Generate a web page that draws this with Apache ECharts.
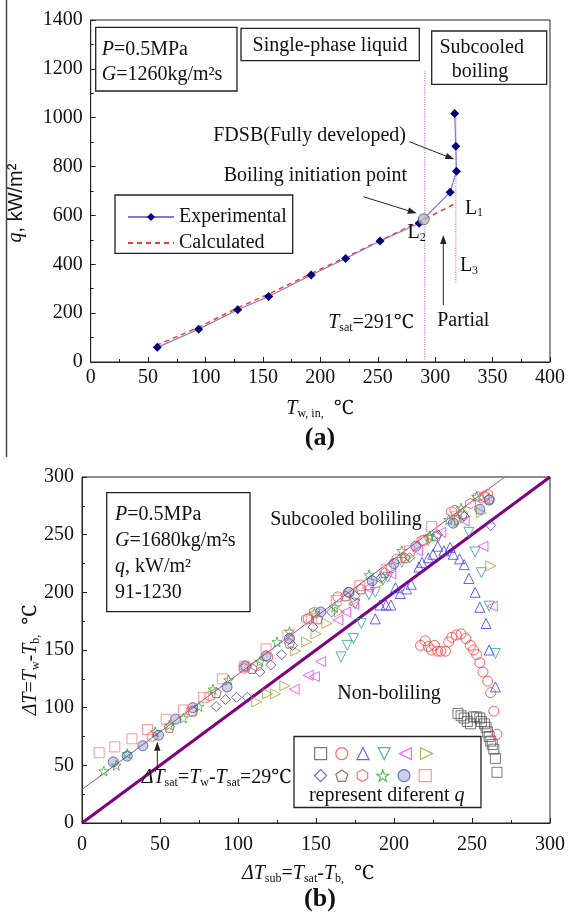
<!DOCTYPE html>
<html><head><meta charset="utf-8">
<script src="https://cdn.jsdelivr.net/npm/echarts@6.0.0/dist/echarts.min.js"></script>
<style>html,body{margin:0;padding:0;background:#fff}#c{width:568px;height:916px}</style>
</head><body><div id="c"></div>
<script>
// ---------- Panel (a) data ----------
const expData = [[58,60],[94,134],[128,214],[155,268],[192,356],[222,424],[252,495],[286,568],[313,695],[318.5,781],[318,883],[317,1017]];
const calcData = [[57,68],[94,142],[128,222],[155,278],[192,362],[222,428],[252,497],[286,573],[318,650]];
const boilPoint = [[290,584]];
const tsatLine = [[291,0],[291,1192]];
const l3Line = [[318,325],[318,1018]];
const xTicksA = {min:0,max:400,interval:50};
const yTicksA = {min:0,max:1400,interval:200};

// ---------- Panel (b) data ----------
const sGraySq = [[241,95],[243,93],[245,91],[247,88],[249,86],[251,92],[253,92],[255,91],[256,88],[258,86],[259,83],[260,79],[261,75],[262,71],[263,68],[264,64],[265,56],[266,44]];
const sRedCircle = [[217,154],[220,158],[222,153],[224,150],[226,154],[228,149],[230,149],[233,149],[235,157],[237,161],[240,163],[243,164],[246,160],[249,154],[251,150],[253,146],[255,139],[257,131],[260,123],[262,113],[264,97],[266,77],[104,136],[145,177],[164,196],[198,221],[219,245],[239,271],[258,283]];
const sBlueTriUp = [[188,177],[191,189],[195,189],[198,189],[201,204],[204,199],[208,203],[211,207],[216,222],[218,226],[222,230],[225,233],[228,240],[232,236],[236,239],[238,233],[242,229],[245,224],[248,212],[252,200],[255,187],[259,173],[261,150],[265,118]];
const sTealTriDown = [[166,144],[170,154],[174,160],[179,173],[184,198],[188,200],[193,211],[196,213],[248,252],[252,235],[256,217],[261,188],[265,147],[175,190],[205,226],[222,245],[240,262]];
const sMagTriLeft = [[136,116],[145,128],[149,127],[153,140],[164,176],[169,183],[174,190],[183,204],[198,216],[215,236],[230,252],[245,262],[257,240],[263,188]];
const sOliveTriRight = [[112,105],[119,112],[124,112],[130,119],[137,149],[144,157],[150,164],[157,173],[165,183],[175,193],[190,207],[208,230],[225,247],[242,262],[256,269],[262,223]];
const sBlueDiamond = [[86,101],[92,107],[99,109],[106,109],[114,131],[121,137],[128,146],[135,154],[148,170],[160,183],[175,197],[192,213],[210,230],[228,250],[245,266],[262,258]];
const sBrownPent = [[56,83],[71,97],[86,113],[109,134],[133,156],[151,177],[169,197],[179,203],[194,217],[207,230],[227,249],[244,268],[261,281]];
const sRedHex = [[45,75],[70,97],[82,110],[104,134],[112,136],[119,144],[144,177],[149,183],[171,200],[202,229],[218,245],[237,270],[249,277],[254,283],[260,285]];
const sGreenStar = [[14,45],[22,50],[29,60],[47,79],[56,85],[65,91],[75,101],[84,116],[94,124],[114,140],[125,157],[133,166],[149,182],[162,187],[184,215],[205,236],[223,249],[235,263],[243,273],[253,283]];
const sBlueCircle = [[20,53],[29,58],[39,67],[49,76],[60,90],[71,100],[93,118],[105,136],[118,145],[133,160],[153,183],[171,200],[186,210],[200,225],[214,240],[238,260],[255,272],[261,280]];
const sSalmonSq = [[11,61],[21,66],[32,73],[42,81],[54,90],[65,98],[78,109],[90,125],[104,136],[118,151],[132,163],[147,177],[163,193],[178,206],[195,220],[210,236],[224,257],[240,266],[258,282]];
const lineSat29 = [[0,29],[271,300]];
const lineDiag = [[0,0],[300,300]];
const xTicksB = {min:0,max:300,interval:50};
const yTicksB = {min:0,max:300,interval:50};

// ---------- rendering ----------
const SERIF = "'Liberation Serif','Times New Roman','Noto Serif',serif";
const SANS = "'Liberation Sans',Arial,sans-serif";
const chart = echarts.init(document.getElementById('c'), null, {renderer:'canvas'});

const PENT = 'path://M0,-10 L9.51,-3.09 L5.88,8.09 L-5.88,8.09 L-9.51,-3.09 Z';
const HEX = 'path://M0,-10 L8.66,-5 L8.66,5 L0,10 L-8.66,5 L-8.66,-5 Z';
const STAR = 'path://M0,-10 L2.35,-3.24 L9.51,-3.09 L3.8,1.24 L5.88,8.09 L0,4 L-5.88,8.09 L-3.8,1.24 L-9.51,-3.09 L-2.35,-3.24 Z';
const TRI_UP = 'path://M0,-1 L1,1 L-1,1 Z';
const TRI_DOWN = 'path://M-1,-1 L1,-1 L0,1 Z';
const TRI_LEFT = 'path://M-1,0 L1,-1 L1,1 Z';
const TRI_RIGHT = 'path://M1,0 L-1,-1 L-1,1 Z';

const bSeriesDefs = [
  ['s1', sGraySq, 'rect', '#555555', 'rgba(0,0,0,0)'],
  ['s2', sRedCircle, 'circle', '#ff3a3a', 'rgba(0,0,0,0)'],
  ['s3', sBlueTriUp, TRI_UP, '#3a3aff', 'rgba(0,0,0,0)'],
  ['s4', sTealTriDown, TRI_DOWN, '#2e9e9e', 'rgba(0,0,0,0)'],
  ['s5', sMagTriLeft, TRI_LEFT, '#ff33ff', 'rgba(0,0,0,0)'],
  ['s6', sOliveTriRight, TRI_RIGHT, '#a0a030', 'rgba(0,0,0,0)'],
  ['s7', sBlueDiamond, 'diamond', '#4040c0', 'rgba(0,0,0,0)'],
  ['s8', sBrownPent, PENT, '#994444', 'rgba(0,0,0,0)'],
  ['s9', sRedHex, HEX, '#ff5050', 'rgba(0,0,0,0)'],
  ['s10', sGreenStar, STAR, '#33aa33', 'rgba(0,0,0,0)'],
  ['s11', sBlueCircle, 'circle', '#4455aa', 'rgba(68,85,170,0.35)'],
  ['s12', sSalmonSq, 'rect', '#ff7a7a', 'rgba(0,0,0,0)']
];

function axisCommon(extra){
  return Object.assign({
    type:'value',
    axisLine:{show:true,lineStyle:{color:'#222',width:1}},
    axisTick:{show:true,inside:true,length:5,lineStyle:{color:'#222'}},
    minorTick:{show:true,splitNumber:2,length:3,lineStyle:{color:'#222'}},
    splitLine:{show:false}
  }, extra);
}
function lbl(margin){
  return {color:'#111',fontFamily:SERIF,fontSize:20,margin:margin,formatter:function(v){return String(v);}};
}

const series = [
  {type:'line',name:'Calculated',xAxisIndex:0,yAxisIndex:0,data:calcData,symbol:'none',
   lineStyle:{color:'#ff3333',width:1.5,type:[5,4]},itemStyle:{color:'rgba(0,0,0,0)',borderColor:'rgba(0,0,0,0)'},z:2},
  {type:'line',name:'Experimental',xAxisIndex:0,yAxisIndex:0,data:expData,symbol:'diamond',symbolSize:9,
   lineStyle:{color:'#7b7bd6',width:1.2},itemStyle:{color:'#00007a'},z:3},
  {type:'line',name:'tsat',xAxisIndex:0,yAxisIndex:0,data:tsatLine,symbol:'none',
   lineStyle:{color:'#cc77cc',width:1.2,type:'dotted'},z:1},
  {type:'line',name:'l3',xAxisIndex:0,yAxisIndex:0,data:l3Line,symbol:'none',
   lineStyle:{color:'#cc77cc',width:1.2,type:'dotted'},z:1},
  {type:'scatter',name:'bip',xAxisIndex:0,yAxisIndex:0,data:boilPoint,symbol:'circle',symbolSize:11,
   itemStyle:{color:'#bdbdbd',borderColor:'#555',borderWidth:1},z:5},
  {type:'line',name:'sat29',xAxisIndex:1,yAxisIndex:1,data:lineSat29,symbol:'none',
   lineStyle:{color:'#b040b0',width:1},z:1},
  {type:'line',name:'diag',xAxisIndex:1,yAxisIndex:1,data:lineDiag,symbol:'none',
   lineStyle:{color:'#800080',width:3},z:1}
];
bSeriesDefs.forEach(d=>{
  series.push({type:'scatter',name:d[0],xAxisIndex:1,yAxisIndex:1,data:d[1],symbol:d[2],
    symbolSize:10,itemStyle:{color:d[4],borderColor:d[3],borderWidth:1},z:3});
});

function txt(x,y,text,o){
  o=o||{};
  return {type:'text',silent:true,x:x,y:y,rotation:o.rot||0,z:50,
    style:{text:text,fontFamily:o.ff||SERIF,fontSize:o.fs||20,fontWeight:o.fw||'normal',fill:'#111',
      align:o.align||'center',verticalAlign:'middle',rich:o.rich||richBase(o.fs||20)}};
}
function richBase(fs){
  return {
    i:{fontFamily:SERIF,fontSize:fs,fontStyle:'italic',fill:'#111',verticalAlign:'bottom',lineHeight:fs+2},
    n:{fontFamily:SERIF,fontSize:fs,fill:'#111',verticalAlign:'bottom',lineHeight:fs+2},
    sub:{fontFamily:SERIF,fontSize:Math.round(fs*0.62),fill:'#111',verticalAlign:'bottom',lineHeight:fs*0.62,padding:[0,0,-1,0]},
    sans:{fontFamily:SANS,fontSize:fs,fill:'#111',verticalAlign:'bottom',lineHeight:fs+2},
    b:{fontFamily:SERIF,fontSize:fs,fontWeight:'bold',fill:'#111',verticalAlign:'bottom',lineHeight:fs+2}
  };
}
function rect(x1,y1,x2,y2){
  return {type:'rect',silent:true,z:40,shape:{x:x1,y:y1,width:x2-x1,height:y2-y1},
    style:{fill:'#fff',stroke:'#222',lineWidth:1.3}};
}
function arrow(x1,y1,x2,y2){
  const a=Math.atan2(y2-y1,x2-x1),L=9,W=3.2;
  const bx=x2-L*Math.cos(a),by=y2-L*Math.sin(a);
  const px=-Math.sin(a)*W,py=Math.cos(a)*W;
  return [
    {type:'line',silent:true,z:45,shape:{x1:x1,y1:y1,x2:bx,y2:by},style:{stroke:'#222',lineWidth:1}},
    {type:'polygon',silent:true,z:45,shape:{points:[[x2,y2],[bx+px,by+py],[bx-px,by-py]]},style:{fill:'#222'}}
  ];
}

const graphic = [
  {type:'line',silent:true,shape:{x1:6.5,y1:0,x2:6.5,y2:457},style:{stroke:'#444',lineWidth:1.5}},
  // panel (a)
  rect(95.7,27.3,237,91),
  txt(101.7,48.3,'{i|P}{n|=0.5MPa}',{align:'left'}),
  txt(101.7,74,'{i|G}{n|=1260kg/m²s}',{align:'left'}),
  rect(241,28.3,419.3,60.7),
  txt(330,44.3,'{n|Single-phase liquid}'),
  rect(431.7,31,546.7,84.3),
  txt(481.7,46.7,'{n|Subcooled}'),
  txt(480,70.7,'{n|boiling}'),
  rect(115,195,292.7,253.3),
  txt(406,135,'{n|FDSB(Fully developed)}',{align:'right'}),
  txt(407,175,'{n|Boiling initiation point}',{align:'right'}),
  ...arrow(409.3,141.7,454.3,159.3),
  ...arrow(363.3,196.7,416.7,213.3),
  txt(474,207.3,'{n|L}{sub|1}'),
  txt(416.7,231.7,'{n|L}{sub|2}'),
  txt(469,265,'{n|L}{sub|3}'),
  txt(371,321.7,'{i|T}{sub|sat}{n|=291℃}'),
  txt(463.3,319.3,'{n|Partial}'),
  ...arrow(443.3,305,443.3,235),
  txt(320,408,'{i|T}{sub|w, in,}{n|  ℃}'),
  txt(320,437,'{b|(a)}',{fs:26}),
  txt(15,203,'{i|q}{sans|, kW/m²}',{rot:Math.PI/2}),
  // panel (b)
  rect(106.7,492.7,250,611.7),
  txt(115,513.3,'{i|P}{n|=0.5MPa}',{align:'left'}),
  txt(115,540,'{i|G}{n|=1680kg/m²s}',{align:'left'}),
  txt(115,565.5,'{i|q}{n|, kW/m²}',{align:'left'}),
  txt(115,591.7,'{n|91-1230}',{align:'left'}),
  txt(346,519,'{n|Subcooled boliling}'),
  txt(389,693,'{n|Non-boliling}'),
  txt(141.7,776.7,'{i|ΔT}{sub|sat}{n|=}{i|T}{sub|w}{n|-}{i|T}{sub|sat}{n|=29℃}',{align:'left'}),
  ...arrow(157.3,769,157.3,741.7),
  rect(294,736.5,481,807.5),
  txt(386.7,795,'{n|represent diferent }{i|q}'),
  txt(308,873,'{i|ΔT}{sub|sub}{n|=}{i|T}{sub|sat}{n|-}{i|T}{sub|b,}{n|  ℃}'),
  txt(320,898,'{b|(b)}',{fs:26}),
  txt(30,660,'{i|ΔT}{n|=}{i|T}{sub|w}{n|-}{i|T}{sub|b,}{n|  ℃}',{rot:Math.PI/2})
];

function bLegend(names, top){
  return {data:names,left:309,top:top,orient:'horizontal',itemWidth:12,itemHeight:12,itemGap:8,
    selectedMode:false,formatter:function(){return '';},textStyle:{fontSize:8},
    itemStyle:{borderWidth:1.2},z:60};
}

const option = {
  animation:false,
  backgroundColor:'#ffffff',
  grid:[
    {left:90.7,top:20,width:461,height:342,show:true,borderColor:'#222',borderWidth:1,backgroundColor:'transparent'},
    {left:82,top:477,width:470.5,height:346,show:true,borderColor:'#222',borderWidth:1,backgroundColor:'transparent'}
  ],
  xAxis:[
    axisCommon(Object.assign({gridIndex:0,axisLabel:lbl(6)},xTicksA)),
    axisCommon(Object.assign({gridIndex:1,axisLabel:lbl(12)},xTicksB))
  ],
  yAxis:[
    axisCommon(Object.assign({gridIndex:0,axisLabel:lbl(8)},yTicksA)),
    axisCommon(Object.assign({gridIndex:1,axisLabel:lbl(8)},yTicksB))
  ],
  legend:[
    {data:['Experimental','Calculated'],left:122,top:202,orient:'vertical',itemWidth:46,itemHeight:10,itemGap:6,
     selectedMode:false,textStyle:{fontFamily:SERIF,fontSize:20,color:'#111'},z:60},
    bLegend(['s1','s2','s3','s4','s5','s6'],742),
    bLegend(['s7','s8','s9','s10','s11','s12'],764)
  ],
  series:series,
  graphic:{elements:graphic}
};
chart.setOption(option);
</script></body></html>
